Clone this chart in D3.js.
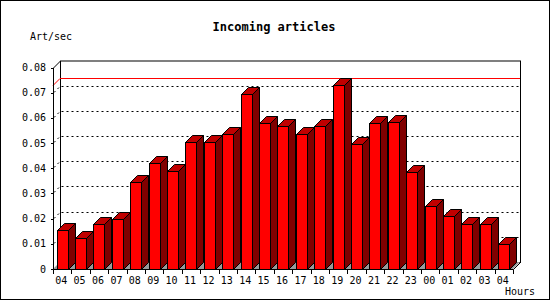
<!DOCTYPE html>
<html>
<head>
<meta charset="utf-8">
<script src="https://cdn.jsdelivr.net/npm/d3@7"></script>
<style>
  body { margin: 0; background: #fff; }
  svg text { font-family: "DejaVu Sans Mono", monospace; font-size: 10px; fill: #000; }
</style>
</head>
<body>
<div id="chart"></div>
<script>
var hours = ["04","05","06","07","08","09","10","11","12","13","14","15","16","17","18","19","20","21","22","23","00","01","02","03","04"];
var artPerSec = [0.0155, 0.0122, 0.0177, 0.0197, 0.0344, 0.0419, 0.0390, 0.0505, 0.0504, 0.0537, 0.0693, 0.0581, 0.0569,
                 0.0534, 0.0569, 0.0729, 0.0495, 0.0578, 0.0582, 0.0384, 0.0249, 0.0209, 0.0177, 0.0177, 0.0098];
var yTicks = [0, 0.01, 0.02, 0.03, 0.04, 0.05, 0.06, 0.07, 0.08];

var width = 550, height = 300;
var depth = 7;          // 3d offset of the back wall
var barW = 11;

var svg = d3.select("#chart").append("svg")
    .attr("width", width)
    .attr("height", height);

// outer frame
svg.append("rect")
    .attr("x", 0.5).attr("y", 0.5)
    .attr("width", width - 1).attr("height", height - 1)
    .attr("fill", "#fff").attr("stroke", "#000");

var x = d3.scaleBand()
    .domain(d3.range(hours.length))
    .range([53, 513]);

var y = d3.scaleLinear()
    .domain([0, 0.08])
    .range([269, 67.5]);

var x0 = x.range()[0], x1 = x.range()[1];
var yb = y(0), yt = y(0.08);

var g = svg.append("g");

// back wall
g.append("rect")
    .attr("x", x0 + depth + 0.5).attr("y", yt - depth + 0.5)
    .attr("width", x1 - x0).attr("height", yb - yt)
    .attr("fill", "#fff").attr("stroke", "#000");

// grid lines on the back wall, with their little slant to the front axis
var grid = g.append("g")
    .attr("stroke", "#000")
    .attr("stroke-dasharray", "2,3")
    .attr("fill", "none");
yTicks.slice(1, -1).forEach(function(t) {
    var yy = Math.round(y(t)) + 0.5;
    grid.append("path")
        .attr("d", "M" + (x0 + 1) + "," + (yy - 1) + "L" + (x0 + depth) + "," + (yy - depth) +
                   "H" + (x1 + depth));
});

// max line
var maxV = d3.max(artPerSec);
var ym = Math.round(y(maxV)) + 0.5;
g.append("path")
    .attr("d", "M" + x0 + "," + ym + "L" + (x0 + depth) + "," + (ym - depth) + "H" + (x1 + depth))
    .attr("stroke", "#ff0000")
    .attr("fill", "none");

// floor
g.append("path")
    .attr("d", "M" + x0 + "," + yb + "L" + x1 + "," + yb + "L" + (x1 + depth) + "," + (yb - depth) +
               "L" + (x0 + depth) + "," + (yb - depth) + "Z")
    .attr("fill", "#999")
    .attr("stroke", "none");
g.append("path")
    .attr("d", "M" + (x1 + 0.5) + "," + (yb + 0.5) + "L" + (x1 + depth + 0.5) + "," + (yb - depth + 0.5))
    .attr("stroke", "#000")
    .attr("fill", "none");

// bars
var bars = g.append("g")
    .attr("stroke", "#000")
    .attr("stroke-width", 1)
    .selectAll("g")
    .data(artPerSec)
    .enter().append("g")
        .attr("transform", function(d, i) {
            return "translate(" + (Math.round(x(i) + 3.5) + 0.5) + ",0)";
        });

bars.append("path")
    .attr("fill", "#800000")
    .attr("d", function(d) {
        var top = Math.round(y(d)) + 0.5;
        return "M" + barW + "," + top + "L" + (barW + depth) + "," + (top - depth) +
               "L" + (barW + depth) + "," + (yb - depth + 0.5) + "L" + barW + "," + (yb + 0.5) + "Z";
    });

bars.append("path")
    .attr("fill", "#c00000")
    .attr("d", function(d) {
        var top = Math.round(y(d)) + 0.5;
        return "M0," + top + "L" + depth + "," + (top - depth) + "H" + (barW + depth) +
               "L" + barW + "," + top + "Z";
    });

bars.append("rect")
    .attr("fill", "#ff0000")
    .attr("x", 0)
    .attr("y", function(d) { return Math.round(y(d)) + 0.5; })
    .attr("width", barW)
    .attr("height", function(d) { return yb - Math.round(y(d)); });

// front axes
var axes = g.append("g").attr("stroke", "#000").attr("fill", "none");
axes.append("path")
    .attr("d", "M" + (x0 + 0.5) + "," + (yb + 0.5) + "V" + (yt + 0.5) +
               "L" + (x0 + depth + 0.5) + "," + (yt - depth + 0.5));
axes.append("path")
    .attr("d", "M" + (x0 + 0.5) + "," + (yb + 0.5) + "H" + (x1 + 0.5));

// y ticks and labels
yTicks.forEach(function(t) {
    var yy = Math.round(y(t)) + 0.5;
    axes.append("path").attr("d", "M" + (x0 - 2) + "," + yy + "H" + (x0 + 0.5));
});
g.append("g").selectAll("text")
    .data(yTicks)
    .enter().append("text")
        .attr("x", 46)
        .attr("y", function(t) { return y(t); })
        .attr("dy", "0.35em")
        .attr("text-anchor", "end")
        .text(function(t) { return t === 0 ? "0" : d3.format(".2f")(t); });

// x ticks at band boundaries and hour labels
d3.range(hours.length + 1).forEach(function(i) {
    var xx = Math.round(x0 + i * x.step()) + 0.5;
    axes.append("path").attr("d", "M" + xx + "," + (yb + 0.5) + "V" + (yb + 5));
});
g.append("g").selectAll("text")
    .data(hours)
    .enter().append("text")
        .attr("x", function(d, i) { return x(i) + x.bandwidth() / 2 - 1; })
        .attr("y", 284)
        .attr("text-anchor", "middle")
        .text(function(d) { return d; });

// titles
svg.append("text")
    .attr("x", 274)
    .attr("y", 31)
    .attr("text-anchor", "middle")
    .attr("font-weight", "bold")
    .style("font-size", "12px")
    .text("Incoming articles");

svg.append("text")
    .attr("x", 30)
    .attr("y", 40)
    .text("Art/sec");

svg.append("text")
    .attr("x", 535)
    .attr("y", 295)
    .attr("text-anchor", "end")
    .text("Hours");
</script>
</body>
</html>
